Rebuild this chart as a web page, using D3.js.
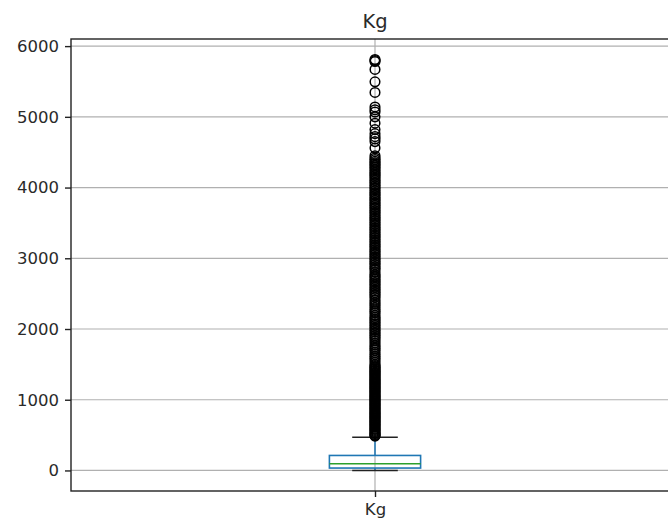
<!DOCTYPE html>
<html>
<head>
<meta charset="utf-8">
<script src="https://cdn.jsdelivr.net/npm/d3@7"></script>
<style>
  html, body { margin: 0; padding: 0; background: #fff; }
  svg { display: block; font-family: "DejaVu Sans", sans-serif; }
</style>
</head>
<body>
<svg id="chart" width="668" height="526"></svg>
<script>
// ---- data ----
const categories = ["Kg"];
const chartTitle = "Kg";
const yTicks = [0, 1000, 2000, 3000, 4000, 5000, 6000];
// box statistics
const lowerWhisker = [0];
const q1 = [34];
const median = [95];
const q3 = [212];
const upperWhisker = [470];
// outliers (fliers)
const outliers = [
  5810, 5797, 5782, 5670, 5495, 5345, 5140, 5100, 5068, 5000, 4910, 4820, 4762, 4720, 4688, 4650,
  4560, 4450, 4418, 4395, 4372, 4350, 4331, 4308, 4286, 4262, 4238, 4214, 4192, 4170, 4148, 4122,
  4098, 4076, 4052, 4028, 4004, 3982, 3956, 3931, 3908, 3886, 3861, 3838, 3816, 3791, 3768, 3746,
  3722, 3698, 3673, 3651, 3626, 3602, 3578, 3556, 3531, 3506, 3482, 3458, 3433, 3411, 3386, 3361,
  3338, 3314, 3290, 3266, 3241, 3216, 3192, 3170, 3146, 3121, 3098, 3075, 3051, 3026, 3002, 2978,
  2956, 2931, 2908, 2882, 2858, 2834, 2800, 2768, 2748, 2724, 2701, 2678, 2655, 2632, 2608, 2585,
  2561, 2538, 2515, 2492, 2468, 2443, 2408, 2378, 2352, 2328, 2299, 2271, 2248, 2224, 2190, 2164,
  2141, 2118, 2094, 2071, 2048, 2024, 2001, 1978, 1955, 1931, 1908, 1884, 1858, 1830, 1801, 1772,
  1746, 1721, 1698, 1668, 1641, 1612, 1588, 1561, 1532, 1503, 1482, 1466, 1451, 1436, 1421, 1404,
  1391, 1374, 1361, 1346, 1331, 1314, 1301, 1286, 1271, 1254, 1241, 1226, 1211, 1194, 1181, 1166,
  1151, 1134, 1121, 1106, 1091, 1074, 1061, 1046, 1031, 1014, 1001, 986, 971, 954, 941, 926,
  911, 894, 881, 866, 851, 834, 821, 806, 791, 774, 761, 746, 731, 714, 701, 686,
  671, 654, 641, 626, 611, 594, 581, 566, 551, 534, 521, 506, 496, 486
];

// ---- layout ----
const svg = d3.select("#chart");
const plot = { left: 71, right: 679, top: 39, bottom: 491 };

const dataMin = d3.min([d3.min(lowerWhisker), d3.min(outliers)]);
const dataMax = d3.max([d3.max(upperWhisker), d3.max(outliers)]);
const pad = (dataMax - dataMin) * 0.05;

const y = d3.scaleLinear()
  .domain([dataMin - pad, dataMax + pad])
  .range([plot.bottom, plot.top]);

// x: continuous positions 1..n, limits 0.5..n+0.5 (matplotlib style)
const x = d3.scaleLinear()
  .domain([0.5, categories.length + 0.5])
  .range([plot.left, plot.right]);
const boxW = 0.15;

const grid = "#b0b0b0";
const textColor = "#2a2a2a";

// gridlines
svg.append("g").selectAll("line.hgrid").data(yTicks).join("line")
  .attr("x1", plot.left).attr("x2", plot.right)
  .attr("y1", d => y(d)).attr("y2", d => y(d))
  .attr("stroke", grid).attr("stroke-width", 1.2);
svg.append("g").selectAll("line.vgrid").data(categories).join("line")
  .attr("x1", (d, i) => x(i + 1)).attr("x2", (d, i) => x(i + 1))
  .attr("y1", plot.top).attr("y2", plot.bottom)
  .attr("stroke", grid).attr("stroke-width", 1.2);

// boxes
const g = svg.append("g");
categories.forEach((c, i) => {
  const cx = x(i + 1);
  const halfBox = x(i + 1 + boxW / 2) - cx;
  const halfCap = halfBox / 2;
  // whiskers
  g.append("line").attr("x1", cx).attr("x2", cx)
    .attr("y1", y(q3[i])).attr("y2", y(upperWhisker[i]))
    .attr("stroke", "#1f77b4").attr("stroke-width", 1.5);
  g.append("line").attr("x1", cx).attr("x2", cx)
    .attr("y1", y(q1[i])).attr("y2", y(lowerWhisker[i]))
    .attr("stroke", "#1f77b4").attr("stroke-width", 1.5);
  // caps
  [upperWhisker[i], lowerWhisker[i]].forEach(v => {
    g.append("line").attr("x1", cx - halfCap).attr("x2", cx + halfCap)
      .attr("y1", y(v)).attr("y2", y(v))
      .attr("stroke", "#222").attr("stroke-width", 1.6);
  });
  // box
  g.append("rect")
    .attr("x", cx - halfBox).attr("width", 2 * halfBox)
    .attr("y", y(q3[i])).attr("height", y(q1[i]) - y(q3[i]))
    .attr("fill", "none").attr("stroke", "#1f77b4").attr("stroke-width", 1.6);
  // median
  g.append("line").attr("x1", cx - halfBox).attr("x2", cx + halfBox)
    .attr("y1", y(median[i])).attr("y2", y(median[i]))
    .attr("stroke", "#2ca02c").attr("stroke-width", 1.6);
  // fliers
  g.append("g").selectAll("circle").data(outliers).join("circle")
    .attr("cx", cx).attr("cy", d => y(d)).attr("r", 4.8)
    .attr("fill", "none").attr("stroke", "#000").attr("stroke-width", 1.5);
});

// axes
const yAxis = d3.axisLeft(y).tickValues(yTicks).tickSize(6).tickPadding(6).tickFormat(d3.format("d"));
const ya = svg.append("g").attr("transform", `translate(${plot.left},0)`).call(yAxis);
ya.select(".domain").remove();
ya.selectAll(".tick line").attr("stroke", "#222").attr("stroke-width", 1.4);
ya.selectAll(".tick text").attr("fill", textColor).style("font-size", "16.5px").style("font-family", "DejaVu Sans, sans-serif");

const xAxis = d3.axisBottom(x).tickValues(categories.map((c, i) => i + 1))
  .tickFormat((d) => categories[d - 1]).tickSize(6).tickPadding(6);
const xa = svg.append("g").attr("transform", `translate(0,${plot.bottom})`).call(xAxis);
xa.select(".domain").remove();
xa.selectAll(".tick line").attr("stroke", "#222").attr("stroke-width", 1.4);
xa.selectAll(".tick text").attr("fill", textColor).style("font-size", "16.5px").style("font-family", "DejaVu Sans, sans-serif");

// spines
svg.append("rect")
  .attr("x", plot.left).attr("y", plot.top)
  .attr("width", plot.right - plot.left).attr("height", plot.bottom - plot.top)
  .attr("fill", "none").attr("stroke", "#222").attr("stroke-width", 1.4);

// title
svg.append("text")
  .attr("x", (plot.left + plot.right) / 2).attr("y", 28)
  .attr("text-anchor", "middle")
  .attr("fill", textColor)
  .style("font-size", "19.5px")
  .text(chartTitle);
</script>
</body>
</html>
